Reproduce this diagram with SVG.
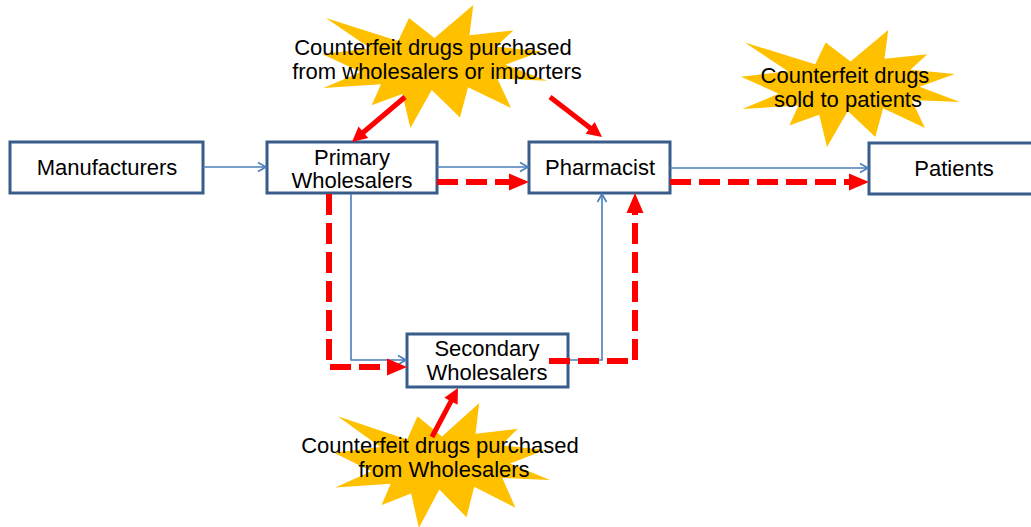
<svg xmlns="http://www.w3.org/2000/svg" xmlns:xlink="http://www.w3.org/1999/xlink" width="1031" height="527" viewBox="0 0 1031 527">
  <style>
    .box { fill: #ffffff; stroke: #385d8a; stroke-width: 3; }
    .label { font-family: "Liberation Sans", Arial, sans-serif; font-size: 22px; fill: #000000; text-anchor: middle; }
    .flow { fill: none; stroke: #4a7ebb; stroke-width: 1.6; marker-end: url(#openHead); }
    .fake { fill: none; stroke: #ff0000; stroke-width: 6; stroke-dasharray: 21 8; marker-end: url(#redHead); }
    .hit { fill: none; stroke: #ff0000; stroke-width: 5; marker-end: url(#redSmallHead); }
    .burst { fill: #ffc000; }
  </style>
  <defs>
    <!-- open chevron head for the regular supply chain -->
    <marker id="openHead" markerUnits="userSpaceOnUse" markerWidth="12" markerHeight="12" refX="9" refY="5" orient="auto" overflow="visible">
      <path d="M1,0.5 L9,5 L1,9.5" fill="none" stroke="#4a7ebb" stroke-width="1.6"/>
    </marker>
    <!-- filled heads for the counterfeit routes -->
    <marker id="redHead" markerUnits="userSpaceOnUse" markerWidth="20" markerHeight="17" refX="6" refY="8.5" orient="auto" overflow="visible">
      <path d="M0,0 L20,8.5 L0,17 Z" fill="#ff0000"/>
    </marker>
    <marker id="redSmallHead" markerUnits="userSpaceOnUse" markerWidth="15" markerHeight="15" refX="5" refY="7.5" orient="auto" overflow="visible">
      <path d="M0,0 L15,7.5 L0,15 Z" fill="#ff0000"/>
    </marker>
    <!-- explosion shape on a 216 x 216 grid -->
    <path id="burstShape" d="M108,58 L145.22,0 L141.55,53.25 L183.8,44.57 L167.02,73.15 L210.97,81.37 L176.07,104.75 L216,132.9 L168.37,129.42 L181.45,180.95 L140.2,144.57 L132.47,197.37 L105.32,149.35 L84.85,216 L77.15,156.27 L47.62,176.17 L56.67,139.37 L1.35,145.87 L37.22,117.75 L0,86.15 L46.27,76.17 L3.7,22.95 L73.12,63.2 L83.52,22.95 Z"/>
  </defs>

  <!-- callout bursts -->
  <g id="burst-top">
    <use xlink:href="#burstShape" class="burst" transform="translate(322,5) scale(1.0417,0.5694)"/>
  </g>
  <g id="burst-right">
    <use xlink:href="#burstShape" class="burst" transform="translate(741,30) scale(1.0139,0.5417)"/>
  </g>
  <g id="burst-bottom">
    <use xlink:href="#burstShape" class="burst" transform="translate(334,403) scale(1.0,0.5787)"/>
  </g>

  <!-- nodes -->
  <g id="manufacturers">
    <rect class="box" x="10" y="142" width="193" height="51"/>
    <text class="label" x="107" y="175">Manufacturers</text>
  </g>
  <g id="primary-wholesalers">
    <rect class="box" x="267" y="142" width="170" height="51"/>
    <text class="label" x="352" y="165">Primary</text>
    <text class="label" x="352" y="188">Wholesalers</text>
  </g>
  <g id="pharmacist">
    <rect class="box" x="529" y="142" width="141" height="51"/>
    <text class="label" x="600" y="175">Pharmacist</text>
  </g>
  <g id="patients">
    <rect class="box" x="869" y="143" width="180" height="51"/>
    <text class="label" x="954" y="176">Patients</text>
  </g>
  <g id="secondary-wholesalers">
    <rect class="box" x="407" y="334" width="161" height="53"/>
    <text class="label" x="487" y="356">Secondary</text>
    <text class="label" x="487" y="380">Wholesalers</text>
  </g>

  <!-- connectors -->
  <g id="connectors">
    <path class="flow" d="M203,167 H266"/>
    <path class="flow" d="M437,167 H528"/>
    <path class="flow" d="M670,168 H868"/>
    <path class="flow" d="M351,194 V360 H406"/>
    <path class="flow" d="M568,360 H602 V194"/>

    <path class="fake" d="M437,182 H515"/>
    <path class="fake" d="M670,182 H855"/>
    <path class="fake" d="M329,194 V367 H393"/>
    <path class="fake" d="M549,361 H635 V207"/>

    <path class="hit" d="M405,97 L359.6,135.5"/>
    <path class="hit" d="M550,97 L594.1,130.9"/>
    <path class="hit" d="M432,437 L453.3,396.8"/>
  </g>

  <!-- callout texts -->
  <g id="callout-top">
    <text class="label" x="433" y="55">Counterfeit drugs purchased</text>
    <text class="label" x="437" y="79">from wholesalers or importers</text>
  </g>
  <g id="callout-right">
    <text class="label" x="845" y="83">Counterfeit drugs</text>
    <text class="label" x="848" y="107">sold to patients</text>
  </g>
  <g id="callout-bottom">
    <text class="label" x="440" y="453">Counterfeit drugs purchased</text>
    <text class="label" x="444" y="477">from Wholesalers</text>
  </g>
</svg>
